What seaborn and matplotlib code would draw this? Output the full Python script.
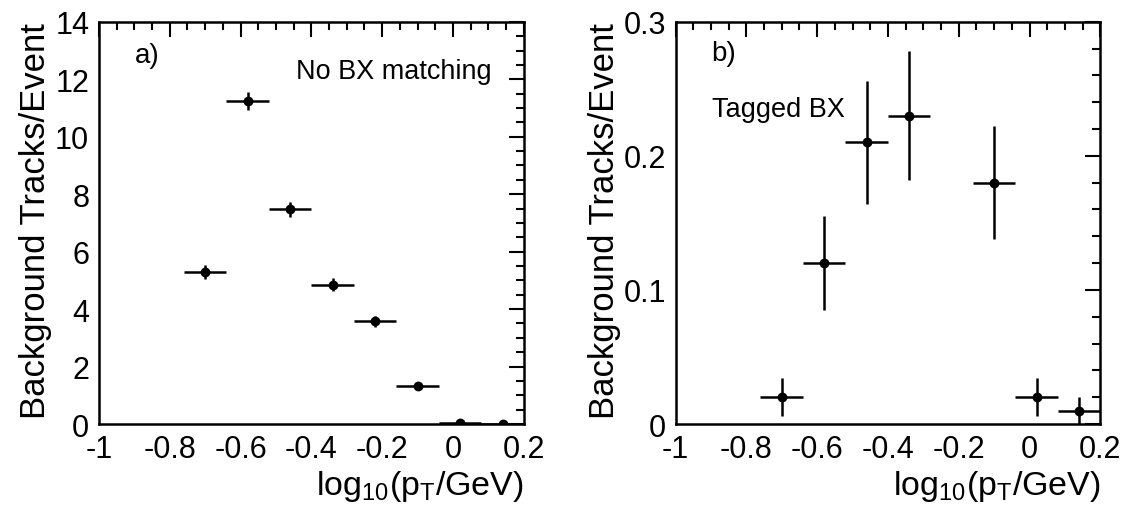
import matplotlib
matplotlib.use("Agg")
import matplotlib.pyplot as plt
from matplotlib.ticker import MultipleLocator
import pandas as pd
import seaborn as sns

# bin centres in log10(pT/GeV), half bin width
bin_centres = [-0.70, -0.58, -0.46, -0.34, -0.22, -0.10, 0.02, 0.14]
half_width = 0.06

# a) no BX matching
nomatch_vals = [5.30, 11.25, 7.47, 4.85, 3.57, 1.33, 0.03, 0.01]
nomatch_errs = [0.25, 0.32, 0.26, 0.22, 0.18, 0.10, 0.02, 0.01]

# b) tagged BX (no entry in the -0.22 bin)
tagged_x = [-0.70, -0.58, -0.46, -0.34, -0.10, 0.02, 0.14]
tagged_vals = [0.020, 0.120, 0.210, 0.230, 0.180, 0.020, 0.010]
tagged_errs = [0.014, 0.035, 0.046, 0.048, 0.042, 0.014, 0.010]

x_ticks = [-1, -0.8, -0.6, -0.4, -0.2, 0, 0.2]
x_ticklabels = ["-1", "-0.8", "-0.6", "-0.4", "-0.2", "0", "0.2"]


def drawPanel(ax, x, y, yerr, ymax, yticks, yticklabels, yminor,
              tag, tag_xy, note, note_xy):
    df = pd.DataFrame({"x": x, "y": y})
    ax.errorbar(df["x"], df["y"], xerr=half_width, yerr=yerr,
                fmt="none", ecolor="black", elinewidth=1.8, capsize=0)
    sns.scatterplot(x="x", y="y", data=df, color="black", s=50,
                    edgecolor="black", linewidth=0, ax=ax, zorder=3)

    ax.set_xticks(x_ticks)
    ax.set_xticklabels(x_ticklabels)
    ax.set_yticks(yticks)
    ax.set_yticklabels(yticklabels)
    ax.xaxis.set_minor_locator(MultipleLocator(0.05))
    ax.yaxis.set_minor_locator(MultipleLocator(yminor))
    ax.set_xlim(-1, 0.2)
    ax.set_ylim(0, ymax)
    ax.tick_params(which="both", direction="in", top=True, right=True,
                   width=1.5, labelsize=22, pad=7, colors="black")
    ax.tick_params(which="major", length=11)
    ax.tick_params(which="minor", length=6)
    for s in ax.spines.values():
        s.set_linewidth(1.8)
        s.set_color("black")

    ax.set_xlabel(r"log$_{10}$(p$_{T}$/GeV)", fontsize=24.5, loc="right",
                  labelpad=3, color="black")
    ax.set_ylabel("Background Tracks/Event", fontsize=25, loc="top",
                  labelpad=2, color="black")

    ax.text(tag_xy[0], tag_xy[1], tag, transform=ax.transAxes, fontsize=20,
            va="top", ha="left", color="black")
    ax.text(note_xy[0], note_xy[1], note, transform=ax.transAxes,
            fontsize=19.5, va="top", ha=note_xy[2], color="black")


def main():
    sns.set_theme(style="white")
    plt.rcParams["font.family"] = ["Liberation Sans", "DejaVu Sans"]
    plt.rcParams["mathtext.fontset"] = "custom"
    plt.rcParams["mathtext.rm"] = "Liberation Sans"
    plt.rcParams["mathtext.it"] = "Liberation Sans"
    plt.rcParams["text.color"] = "black"

    fig = plt.figure(figsize=(11.24, 5.06), dpi=100)
    ax1 = fig.add_axes([0.088, 0.160, 0.378, 0.795])
    ax2 = fig.add_axes([0.601, 0.160, 0.378, 0.795])

    drawPanel(ax1, bin_centres, nomatch_vals, nomatch_errs, 14,
              [0, 2, 4, 6, 8, 10, 12, 14],
              ["0", "2", "4", "6", "8", "10", "12", "14"], 0.5,
              "a)", (0.085, 0.95), "No BX matching", (0.925, 0.91, "right"))
    drawPanel(ax2, tagged_x, tagged_vals, tagged_errs, 0.3,
              [0, 0.1, 0.2, 0.3], ["0", "0.1", "0.2", "0.3"], 0.02,
              "b)", (0.085, 0.955), "Tagged BX", (0.085, 0.815, "left"))

    fig.savefig("out.png", dpi=100)
    plt.close(fig)


if __name__ == '__main__':
    main()
